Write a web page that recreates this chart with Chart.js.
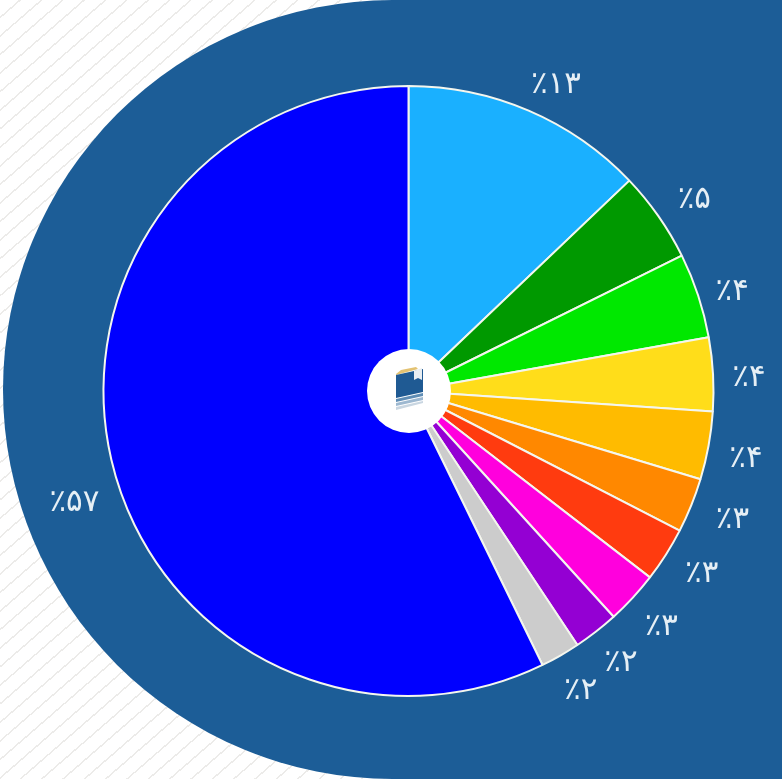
<!DOCTYPE html>
<html lang="fa">
<head>
<meta charset="utf-8">
<title>نمودار</title>
<script src="https://cdn.jsdelivr.net/npm/chart.js@4"></script>
<style>
  html, body { margin: 0; padding: 0; width: 782px; height: 779px; overflow: hidden; background: #fff; }
  #stage {
    position: relative; width: 782px; height: 779px;
    background: repeating-linear-gradient(139deg, #fff 0, #fff 12.5px, #ecebe9 12.5px, #ecebe9 14px);
  }
  #panel {
    position: absolute; left: 3px; top: 0; width: 779px; height: 779px;
    background: #1c5d97; border-radius: 389.5px 0 0 389.5px;
  }
  #pie { position: absolute; left: 0; top: 0; }
  #logo { position: absolute; left: 394px; top: 366px; }
</style>
</head>
<body>
<div id="stage">
  <div id="panel"></div>
  <canvas id="pie" width="782" height="779"></canvas>
  <svg id="logo" width="32" height="46" viewBox="0 0 32 46">
    <path d="M2 33 L29 27 V30 L2 36 Z" fill="#5f8db5"/>
    <path d="M2 37 L29 31 V34 L2 40 Z" fill="#9db8d0"/>
    <path d="M2 41 L29 35 V37 L2 44 Z" fill="#c9d6e1"/>
    <path d="M2 8 L7 4 L22 1 L24 3 L2 9 Z" fill="#e3c272"/>
    <path d="M2 9 L29 3 V26 L2 32 Z" fill="#1f5a93"/>
    <path d="M20 5 L28 2 V14 L24 12 L20 14 Z" fill="#e9eef2"/>
  </svg>
</div>
<script>
// Share of each slice, clockwise from the top
const categories = ["a", "b", "c", "d", "e", "f", "g", "h", "i", "j", "k"];
const shares = [12.9, 4.8, 4.5, 3.9, 3.6, 2.9, 2.9, 2.8, 2.4, 2.1, 57.3];
const sliceLabels = ["٪۱۳", "٪۵", "٪۴", "٪۴", "٪۴", "٪۳", "٪۳", "٪۳", "٪۲", "٪۲", "٪۵۷"];
const sliceColors = ["#1ab0ff", "#009900", "#00e800", "#ffdd1a", "#ffbb00", "#ff8800",
                     "#ff3b0f", "#ff00dd", "#9400d3", "#cccccc", "#0000ff"];

// ------------------------------
// Labels outside the pie + white hub
// ------------------------------
const labelNudge = [[12, 10], [4, 6], [-3, 9], [-3, 6], [-1, 6], [5, 0], [3, -2], [0, 3], [1, 1], [1, 2], [1, 34]];

const outerLabels = {
  id: "outerLabels",
  afterDatasetsDraw(chart) {
    const ctx = chart.ctx;
    const arcs = chart.getDatasetMeta(0).data;
    ctx.save();
    ctx.font = "31px 'DejaVu Sans'";
    ctx.fillStyle = "#e6eff5";
    ctx.textAlign = "center";
    ctx.textBaseline = "middle";
    arcs.forEach((arc, i) => {
      const mid = (arc.startAngle + arc.endAngle) / 2;
      const r = arc.outerRadius + 39;
      ctx.fillText(sliceLabels[i], arc.x + Math.cos(mid) * r + labelNudge[i][0], arc.y + Math.sin(mid) * r + labelNudge[i][1]);
    });
    // hub
    const first = arcs[0];
    ctx.fillStyle = "#fff";
    ctx.beginPath();
    ctx.arc(first.x + 0.5, first.y, 42, 0, Math.PI * 2);
    ctx.fill();
    ctx.restore();
  }
};

new Chart(document.getElementById("pie"), {
  type: "pie",
  data: {
    labels: categories,
    datasets: [{
      data: shares,
      backgroundColor: sliceColors,
      borderColor: "#f4f6ee",
      borderWidth: 2
    }]
  },
  options: {
    responsive: false,
    animation: false,
    layout: { padding: { left: 102, right: 67, top: 85, bottom: 82 } },
    plugins: { legend: { display: false }, tooltip: { enabled: false } }
  },
  plugins: [outerLabels]
});
</script>
</body>
</html>
